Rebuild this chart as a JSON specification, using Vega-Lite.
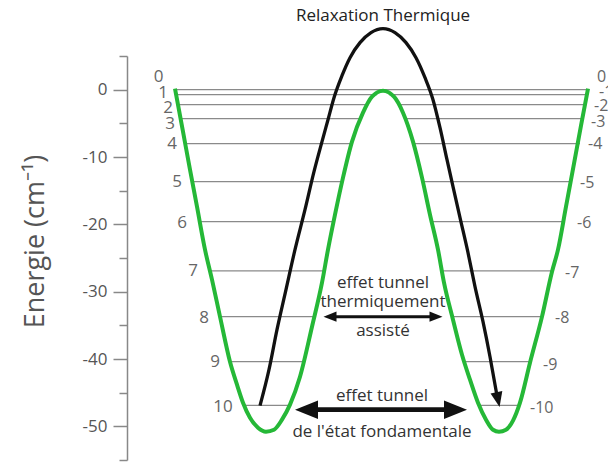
{
  "$schema": "https://vega.github.io/schema/vega-lite/v6.json",
  "width": 481,
  "height": 404,
  "autosize": {"type": "none"},
  "padding": {"left": 127, "top": 56, "right": 0, "bottom": 3},
  "background": "white",
  "config": {"view": {"stroke": null}, "font": "Open Sans"},
  "datasets": {
    "levels": [
      {"E": 0, "x1": 49, "x2": 460},
      {"E": -0.74, "x1": 49, "x2": 250}, {"E": -0.74, "x1": 262, "x2": 460},
      {"E": -2.23, "x1": 51, "x2": 241}, {"E": -2.23, "x1": 271, "x2": 458},
      {"E": -4.31, "x1": 54, "x2": 234}, {"E": -4.31, "x1": 278, "x2": 456},
      {"E": -8.0, "x1": 59, "x2": 225}, {"E": -8.0, "x1": 287, "x2": 453},
      {"E": -13.66, "x1": 65, "x2": 215}, {"E": -13.66, "x1": 297, "x2": 444},
      {"E": -19.6, "x1": 73, "x2": 207}, {"E": -19.6, "x1": 305, "x2": 435},
      {"E": -26.9, "x1": 83, "x2": 198}, {"E": -26.9, "x1": 315, "x2": 425},
      {"E": -33.7, "x1": 94, "x2": 186}, {"E": -33.7, "x1": 327, "x2": 415},
      {"E": -40.4, "x1": 103, "x2": 175}, {"E": -40.4, "x1": 339, "x2": 404},
      {"E": -46.9, "x1": 118, "x2": 161}, {"E": -46.9, "x1": 352, "x2": 392}
    ],
    "green": [
      {"x": 48, "E": 0.15}, {"x": 56, "E": -6.24}, {"x": 63, "E": -11.88}, {"x": 70, "E": -17.38},
      {"x": 78, "E": -23.76}, {"x": 85, "E": -28.22}, {"x": 93, "E": -33.71}, {"x": 103, "E": -40.4},
      {"x": 110, "E": -43.81}, {"x": 116, "E": -46.49}, {"x": 123, "E": -48.72}, {"x": 131, "E": -50.2},
      {"x": 139, "E": -50.79}, {"x": 147, "E": -50.5}, {"x": 155, "E": -49.01}, {"x": 163, "E": -46.78},
      {"x": 173, "E": -42.63}, {"x": 185, "E": -35.2}, {"x": 195, "E": -28.66}, {"x": 201, "E": -23.76},
      {"x": 208, "E": -18.57}, {"x": 216, "E": -13.07}, {"x": 225, "E": -7.72}, {"x": 236, "E": -3.42},
      {"x": 245, "E": -1.04}, {"x": 256, "E": -0.15}, {"x": 267, "E": -1.04}, {"x": 276, "E": -3.42},
      {"x": 286, "E": -7.72}, {"x": 295, "E": -13.07}, {"x": 303, "E": -18.57}, {"x": 311, "E": -23.76},
      {"x": 317, "E": -28.66}, {"x": 326, "E": -34.16}, {"x": 335, "E": -39.36}, {"x": 343, "E": -43.07},
      {"x": 351, "E": -46.49}, {"x": 359, "E": -49.01}, {"x": 366, "E": -50.5}, {"x": 372, "E": -50.79},
      {"x": 379, "E": -50.5}, {"x": 386, "E": -49.16}, {"x": 393, "E": -46.49}, {"x": 403, "E": -40.55},
      {"x": 415, "E": -33.71}, {"x": 425, "E": -27.03}, {"x": 431, "E": -23.76}, {"x": 439, "E": -17.38},
      {"x": 447, "E": -10.99}, {"x": 454, "E": -5.35}, {"x": 461, "E": 0.15}
    ],
    "black": [
      {"x": 133, "E": -46.93}, {"x": 142, "E": -41.59}, {"x": 150, "E": -35.65}, {"x": 159, "E": -29.7},
      {"x": 168, "E": -23.76}, {"x": 178, "E": -17.82}, {"x": 187, "E": -12.18}, {"x": 195, "E": -7.72},
      {"x": 201, "E": -4.46}, {"x": 207, "E": -1.19}, {"x": 215, "E": 2.08}, {"x": 223, "E": 4.75},
      {"x": 233, "E": 6.98}, {"x": 244, "E": 8.47}, {"x": 256, "E": 9.06}, {"x": 268, "E": 8.47},
      {"x": 279, "E": 6.98}, {"x": 289, "E": 4.75}, {"x": 298, "E": 1.78}, {"x": 306, "E": -1.49},
      {"x": 313, "E": -5.64}, {"x": 320, "E": -10.4}, {"x": 326, "E": -14.41}, {"x": 333, "E": -19.01},
      {"x": 341, "E": -24.21}, {"x": 348, "E": -29.26}, {"x": 356, "E": -34.46}, {"x": 363, "E": -39.66},
      {"x": 370, "E": -45.45}
    ],
    "shafts": [
      {"kind": "thermo", "x1": 203, "x2": 309, "E": -33.71},
      {"kind": "ground", "x1": 180, "x2": 328, "E": -47.53}
    ],
    "heads": [
      {"kind": "thermo", "dir": "left", "x": 203, "E": -33.71},
      {"kind": "thermo", "dir": "right", "x": 309, "E": -33.71},
      {"kind": "ground", "dir": "left", "x": 179.5, "E": -47.53},
      {"kind": "ground", "dir": "right", "x": 328.5, "E": -47.53}
    ],
    "tip": [{"x": 371, "E": -46.04}],
    "labelsL": [
      {"t": "0", "x": 31.5, "E": 1.86}, {"t": "1", "x": 36, "E": -0.45}, {"t": "2", "x": 41, "E": -2.67},
      {"t": "3", "x": 43, "E": -5.05}, {"t": "4", "x": 45, "E": -8.02}, {"t": "5", "x": 50, "E": -13.66},
      {"t": "6", "x": 55, "E": -19.75}, {"t": "7", "x": 66, "E": -27.0}, {"t": "8", "x": 77, "E": -33.86},
      {"t": "9", "x": 88, "E": -40.4}, {"t": "10", "x": 96, "E": -47.08}
    ],
    "labelsR": [
      {"t": "0", "x": 470, "E": 1.86}, {"t": "-1", "x": 472, "E": -0.3}, {"t": "-2", "x": 467, "E": -2.38},
      {"t": "-3", "x": 464, "E": -4.75}, {"t": "-4", "x": 461, "E": -8.02}, {"t": "-5", "x": 453, "E": -13.81},
      {"t": "-6", "x": 450, "E": -19.75}, {"t": "-7", "x": 438, "E": -27.18}, {"t": "-8", "x": 428, "E": -33.86},
      {"t": "-9", "x": 416, "E": -40.84}, {"t": "-10", "x": 403, "E": -47.23}
    ],
    "notes": [
      {"t": "effet tunnel", "x": 256, "E": -28.66},
      {"t": "thermiquement", "x": 256, "E": -31.49},
      {"t": "assisté", "x": 256, "E": -35.79},
      {"t": "effet tunnel", "x": 255, "E": -45.45},
      {"t": "de l'état fondamentale", "x": 255, "E": -50.87}
    ],
    "top": [{"t": "Relaxation Thermique", "x": 256, "E": 11.0}]
  },
  "resolve": {"axis": {"y": "independent"}},
  "layer": [
    {
      "data": {"name": "levels"},
      "mark": {"type": "rule", "color": "#8a8a8a", "strokeWidth": 1.3},
      "encoding": {
        "x": {"field": "x1", "type": "quantitative", "scale": {"domain": [0, 481], "nice": false, "zero": false}, "axis": null},
        "x2": {"field": "x2"},
        "y": {
          "field": "E", "type": "quantitative",
          "scale": {"domain": [-55, 5], "nice": false, "zero": false},
          "axis": {
            "orient": "left",
            "values": [0, -10, -20, -30, -40, -50],
            "format": "d",
            "labelExpr": "'' + datum.value",
            "tickSize": 14,
            "grid": false,
            "domainColor": "#888", "domainWidth": 1.5,
            "tickColor": "#888", "tickWidth": 1.5,
            "labelColor": "#555", "labelFont": "Open Sans", "labelFontSize": 17, "labelPadding": 6,
            "title": "Energie (cm⁻¹)",
            "titleFont": "Open Sans", "titleFontSize": 27, "titleFontWeight": "normal", "titleColor": "#555",
            "titleAngle": -90, "titleAlign": "center", "titleBaseline": "alphabetic",
            "titleX": -84, "titleY": 185
          }
        }
      }
    },
    {
      "data": {"name": "green"},
      "mark": {"type": "line", "color": "#25b837", "strokeWidth": 4, "interpolate": "monotone"},
      "encoding": {
        "x": {"field": "x", "type": "quantitative"},
        "y": {"field": "E", "type": "quantitative",
          "axis": {
            "orient": "left",
            "values": [5, -5, -15, -25, -35, -45, -55],
            "labels": false, "domain": false, "grid": false, "title": null,
            "tickSize": 8, "tickColor": "#888", "tickWidth": 1.5
          }
        }
      }
    },
    {
      "data": {"name": "black"},
      "mark": {"type": "line", "color": "#111", "strokeWidth": 3.3, "interpolate": "monotone"},
      "encoding": {"x": {"field": "x", "type": "quantitative"}, "y": {"field": "E", "type": "quantitative", "axis": null}}
    },
    {
      "data": {"name": "shafts"},
      "transform": [{"filter": "datum.kind === 'thermo'"}],
      "mark": {"type": "rule", "color": "#111", "strokeWidth": 3},
      "encoding": {"x": {"field": "x1", "type": "quantitative"}, "x2": {"field": "x2"}, "y": {"field": "E", "type": "quantitative", "axis": null}}
    },
    {
      "data": {"name": "shafts"},
      "transform": [{"filter": "datum.kind === 'ground'"}],
      "mark": {"type": "rule", "color": "#111", "strokeWidth": 4.8},
      "encoding": {"x": {"field": "x1", "type": "quantitative"}, "x2": {"field": "x2"}, "y": {"field": "E", "type": "quantitative", "axis": null}}
    },
    {
      "data": {"name": "heads"},
      "transform": [{"filter": "datum.kind === 'thermo'"}],
      "mark": {"type": "point", "filled": true, "color": "#111", "opacity": 1, "size": 169, "strokeWidth": 0},
      "encoding": {
        "x": {"field": "x", "type": "quantitative"}, "y": {"field": "E", "type": "quantitative", "axis": null},
        "shape": {"field": "dir", "type": "nominal", "legend": null,
          "scale": {"domain": ["left", "right"], "range": ["M 1 -0.8 L -1 0 L 1 0.8 Z", "M -1 -0.8 L 1 0 L -1 0.8 Z"]}}
      }
    },
    {
      "data": {"name": "heads"},
      "transform": [{"filter": "datum.kind === 'ground'"}],
      "mark": {"type": "point", "filled": true, "color": "#111", "opacity": 1, "size": 529, "strokeWidth": 0},
      "encoding": {
        "x": {"field": "x", "type": "quantitative"}, "y": {"field": "E", "type": "quantitative", "axis": null},
        "shape": {"field": "dir", "type": "nominal", "legend": null,
          "scale": {"domain": ["left", "right"], "range": ["M 1 -0.7 L -1 0 L 1 0.7 Z", "M -1 -0.7 L 1 0 L -1 0.7 Z"]}}
      }
    },
    {
      "data": {"name": "tip"},
      "mark": {"type": "point", "filled": true, "color": "#111", "opacity": 1, "size": 225, "strokeWidth": 0,
        "shape": "M -0.8 -1 L 0 1 L 0.8 -1 Z", "angle": -12},
      "encoding": {"x": {"field": "x", "type": "quantitative"}, "y": {"field": "E", "type": "quantitative", "axis": null}}
    },
    {
      "data": {"name": "labelsL"},
      "mark": {"type": "text", "font": "Open Sans", "fontSize": 17, "color": "#666", "align": "center", "baseline": "middle"},
      "encoding": {"x": {"field": "x", "type": "quantitative"}, "y": {"field": "E", "type": "quantitative", "axis": null}, "text": {"field": "t"}}
    },
    {
      "data": {"name": "labelsR"},
      "mark": {"type": "text", "font": "Open Sans", "fontSize": 16, "color": "#666", "align": "left", "baseline": "middle"},
      "encoding": {"x": {"field": "x", "type": "quantitative"}, "y": {"field": "E", "type": "quantitative", "axis": null}, "text": {"field": "t"}}
    },
    {
      "data": {"name": "notes"},
      "mark": {"type": "text", "font": "Open Sans", "fontSize": 17, "color": "#333", "align": "center", "baseline": "middle"},
      "encoding": {"x": {"field": "x", "type": "quantitative"}, "y": {"field": "E", "type": "quantitative", "axis": null}, "text": {"field": "t"}}
    },
    {
      "data": {"name": "top"},
      "mark": {"type": "text", "font": "Open Sans", "fontSize": 17, "color": "#222", "align": "center", "baseline": "middle"},
      "encoding": {"x": {"field": "x", "type": "quantitative"}, "y": {"field": "E", "type": "quantitative", "axis": null}, "text": {"field": "t"}}
    }
  ]
}
